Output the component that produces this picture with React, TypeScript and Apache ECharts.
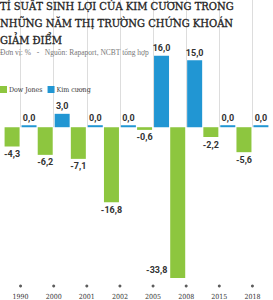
import React, { useEffect, useRef } from "react";
import * as echarts from "echarts";

const years = ["1990", "2000", "2001", "2002", "2005", "2008", "2015", "2018"];
const dowJones = [-4.3, -6.2, -7.1, -16.8, -0.6, -33.8, -2.2, -5.6];
const kimCuong = [0, 3, 0, 0, 16, 15, 0, 0];
const titleText = "TỈ SUẤT SINH LỢI CỦA KIM CƯƠNG TRONG\nNHỮNG NĂM THỊ TRƯỜNG CHỨNG KHOÁN\nGIẢM ĐIỂM";
const subText = "Đơn vị: %   -   Nguồn: Rapaport, NCBT tổng hợp";

const GREEN = "#8dc63f";
const BLUE = "#2196d3";
const Y_MIN = -35.6;
const Y_MAX = 20;

const fmt = (v: number) => v.toFixed(1).replace(".", ",");

const toItems = (arr: number[]) =>
  arr.map((v) => ({
    value: v,
    label:
      v < -30
        ? { position: "bottom", offset: [-21, -15] }
        : { position: v < 0 ? "bottom" : "top" },
  }));

export default function App() {
  const ref = useRef<HTMLDivElement>(null);
  useEffect(() => {
    document.body.style.margin = "0";
    const chart = echarts.init(ref.current!, null, { renderer: "svg" });
    const labelStyle = {
      show: true,
      formatter: (p: any) => fmt(p.value),
      fontFamily: "Roboto",
      fontWeight: "bold" as const,
      fontSize: 9,
      color: "#333",
      distance: 3,
    };
    chart.setOption({
      animation: false,
      backgroundColor: "#fff",
      title: [
        {
          text: titleText,
          left: 0,
          top: -2,
          padding: 0,
          textStyle: {
            fontFamily: "DejaVu Serif Condensed",
            fontWeight: "normal",
            fontSize: 11.1,
            lineHeight: 17,
            color: "#222",
            textBorderColor: "#222",
            textBorderWidth: 0.3,
          },
        },
        {
          text: subText,
          left: 0,
          top: 48,
          padding: 0,
          textStyle: {
            fontFamily: "Liberation Serif",
            fontWeight: "normal",
            fontSize: 7.5,
            color: "#777",
          },
        },
      ],
      legend: {
        left: 0,
        top: 86,
        padding: 0,
        itemWidth: 7,
        itemHeight: 7,
        itemGap: 5,
        icon: "rect",
        textStyle: {
          fontFamily: "DejaVu Serif Condensed",
          fontSize: 7,
          color: "#333",
          padding: [0, 0, 0, -3],
        },
        data: ["Dow Jones", "Kim cương"],
      },
      grid: { left: 4, right: 4, top: 38, bottom: 14, containLabel: false },
      xAxis: {
        type: "category",
        data: years,
        axisLine: { show: false },
        axisTick: {
          show: true,
          alignWithLabel: true,
          inside: true,
          length: 159,
          lineStyle: { color: "#ddd", width: 1 },
        },
        axisLabel: {
          fontFamily: "DejaVu Serif Condensed",
          fontSize: 7,
          color: "#333",
          margin: 7,
        },
      },
      yAxis: {
        type: "value",
        min: Y_MIN,
        max: Y_MAX,
        show: false,
        splitLine: { show: false },
      },
      series: [
        {
          name: "Dow Jones",
          type: "bar",
          data: toItems(dowJones),
          barWidth: 15,
          barGap: "13%",
          barMinHeight: 2,
          itemStyle: { color: GREEN },
          label: labelStyle,
        },
        {
          name: "Kim cương",
          type: "bar",
          data: toItems(kimCuong),
          barWidth: 15,
          barMinHeight: 2,
          itemStyle: { color: BLUE },
          label: labelStyle,
        },
        {
          name: "dots",
          type: "scatter",
          data: years.map((y) => [y, Y_MIN]),
          symbol: "circle",
          symbolSize: 3,
          itemStyle: { color: "#333" },
          silent: true,
          z: 3,
        },
      ],
    });
    return () => chart.dispose();
  }, []);
  return <div ref={ref} style={{ width: 273, height: 300 }} />;
}
